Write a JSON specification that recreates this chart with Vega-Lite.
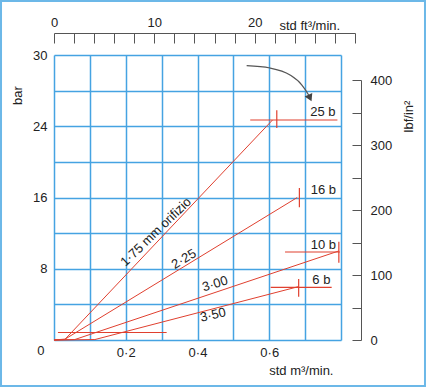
{
  "$schema": "https://vega.github.io/schema/vega-lite/v6.json",
  "width": 287,
  "height": 285,
  "autosize": "none",
  "padding": {"left": 54, "top": 55, "right": 85, "bottom": 47},
  "background": "white",
  "config": {
    "view": {"stroke": null},
    "font": "Liberation Sans",
    "axis": {"labelFont": "Liberation Sans", "titleFont": "Liberation Sans", "labelFontSize": 13, "titleFontSize": 13, "titleFontWeight": "normal", "labelColor": "#222", "titleColor": "#222", "labelOverlap": false, "labelFlush": false, "labelBound": false}
  },
  "datasets": {
    "lines": [
      {"series": "1.75", "ord": 0, "m3": 0, "bar": 0},
      {"series": "1.75", "ord": 1, "m3": 0.03, "bar": 0.05},
      {"series": "1.75", "ord": 2, "m3": 0.609, "bar": 24.7},
      {"series": "2.25", "ord": 0, "m3": 0, "bar": 0},
      {"series": "2.25", "ord": 1, "m3": 0.031, "bar": 0.1},
      {"series": "2.25", "ord": 2, "m3": 0.678, "bar": 16.0},
      {"series": "3.00", "ord": 0, "m3": 0, "bar": 0},
      {"series": "3.00", "ord": 1, "m3": 0.058, "bar": 0.05},
      {"series": "3.00", "ord": 2, "m3": 0.794, "bar": 10.0},
      {"series": "3.50", "ord": 0, "m3": 0, "bar": 0},
      {"series": "3.50", "ord": 1, "m3": 0.114, "bar": 0.05},
      {"series": "3.50", "ord": 2, "m3": 0.682, "bar": 6.0}
    ],
    "segments": [
      {"x1": 0.547, "x2": 0.79, "y1": 24.7, "y2": 24.7},
      {"x1": 0.621, "x2": 0.621, "y1": 23.8, "y2": 25.8},
      {"x1": 0.684, "x2": 0.684, "y1": 14.9, "y2": 17.07},
      {"x1": 0.644, "x2": 0.797, "y1": 9.88, "y2": 9.88},
      {"x1": 0.794, "x2": 0.794, "y1": 8.68, "y2": 11.04},
      {"x1": 0.604, "x2": 0.774, "y1": 5.92, "y2": 5.92},
      {"x1": 0.682, "x2": 0.682, "y1": 4.86, "y2": 6.85},
      {"x1": 0.011, "x2": 0.314, "y1": 0.84, "y2": 0.84}
    ],
    "pressures": [
      {"label": "25 b", "m3": 0.714, "bar": 25.6},
      {"label": "16 b", "m3": 0.7155, "bar": 16.84},
      {"label": "10 b", "m3": 0.7155, "bar": 10.67},
      {"label": "6 b", "m3": 0.72, "bar": 6.79}
    ],
    "orifices": [
      {"label": "1·75 mm orifizio", "m3": 0.284, "bar": 12.13},
      {"label": "2·25", "m3": 0.362, "bar": 9.09},
      {"label": "3·00", "m3": 0.449, "bar": 6.29},
      {"label": "3·50", "m3": 0.443, "bar": 2.81}
    ],
    "arrow": [
      {"ord": 0, "m3": 0.537, "bar": 30.8},
      {"ord": 1, "m3": 0.602, "bar": 30.54},
      {"ord": 2, "m3": 0.658, "bar": 29.75},
      {"ord": 3, "m3": 0.691, "bar": 28.63},
      {"ord": 4, "m3": 0.708, "bar": 27.62},
      {"ord": 5, "m3": 0.7136, "bar": 27.17}
    ],
    "arrowhead": [{"m3": 0.7136, "bar": 27.17}]
  },
  "layer": [
    {
      "layer": [
        {
          "data": {"values": [{}]},
          "mark": {"type": "rect", "fill": null, "stroke": "#6cb8e8", "strokeWidth": 2, "clip": false},
          "encoding": {
            "x": {"datum": -0.1477, "type": "quantitative", "scale": {"domain": [0, 0.8], "nice": false, "zero": false},
              "axis": {"orient": "bottom", "values": [0, 0.1, 0.2, 0.3, 0.4, 0.5, 0.6, 0.7, 0.8], "tickCount": 50, "domain": false, "ticks": false, "labelPadding": 6, "grid": true, "gridColor": "#45a3e2", "gridWidth": 1.5,
                "labelExpr": "(datum.value > 0.1 && datum.value < 0.7 && abs((datum.value * 10) % 2) < 0.01) ? replace(format(datum.value, '.1f'), '.', '·') : ''",
                "title": "std m³/min.", "titleAlign": "right", "titleX": 279, "titleY": 34, "titleBaseline": "alphabetic"}},
            "x2": {"datum": 1.0341},
            "y": {"datum": 38.063, "type": "quantitative", "scale": {"domain": [0, 32], "nice": false},
              "axis": {"orient": "left", "values": [0, 4, 8, 12, 16, 20, 24, 28, 32], "tickCount": 50, "format": "d", "domain": false, "ticks": false,
                "labelPadding": {"condition": {"test": "datum.value === 0", "value": 10}, "value": 7},
                "labelOffset": {"condition": {"test": "datum.value === 0", "value": 10}, "value": 0},
                "grid": true, "gridColor": "#45a3e2", "gridWidth": 1.5,
                "labelExpr": "datum.value === 32 ? '30' : (datum.value % 8 === 0 ? datum.label : '')",
                "title": "bar", "titleAngle": -90, "titleX": -33, "titleY": 40, "titleAlign": "center", "titleBaseline": "alphabetic"}},
            "y2": {"datum": -5.165}
          }
        },
        {
          "data": {"name": "lines"},
          "mark": {"type": "line", "color": "#e0402f", "strokeWidth": 1},
          "encoding": {
            "x": {"field": "m3", "type": "quantitative"},
            "y": {"field": "bar", "type": "quantitative"},
            "detail": {"field": "series"},
            "order": {"field": "ord"}
          }
        },
        {
          "data": {"name": "segments"},
          "mark": {"type": "rule", "color": "#e0402f", "strokeWidth": 1.2},
          "encoding": {
            "x": {"field": "x1", "type": "quantitative"},
            "x2": {"field": "x2"},
            "y": {"field": "y1", "type": "quantitative"},
            "y2": {"field": "y2"}
          }
        },
        {
          "data": {"name": "pressures"},
          "mark": {"type": "text", "align": "left", "baseline": "middle", "fontSize": 13, "color": "#222", "font": "Liberation Sans"},
          "encoding": {
            "x": {"field": "m3", "type": "quantitative"},
            "y": {"field": "bar", "type": "quantitative"},
            "text": {"field": "label"}
          }
        },
        {
          "data": {"name": "orifices"},
          "transform": [{"filter": "datum.label === '1·75 mm orifizio'"}],
          "mark": {"type": "text", "align": "center", "baseline": "middle", "fontSize": 13, "color": "#222", "angle": -44, "font": "Liberation Sans"},
          "encoding": {"x": {"field": "m3", "type": "quantitative"}, "y": {"field": "bar", "type": "quantitative"}, "text": {"field": "label"}}
        },
        {
          "data": {"name": "orifices"},
          "transform": [{"filter": "datum.label === '2·25'"}],
          "mark": {"type": "text", "align": "center", "baseline": "middle", "fontSize": 13, "color": "#222", "angle": -31, "font": "Liberation Sans"},
          "encoding": {"x": {"field": "m3", "type": "quantitative"}, "y": {"field": "bar", "type": "quantitative"}, "text": {"field": "label"}}
        },
        {
          "data": {"name": "orifices"},
          "transform": [{"filter": "datum.label === '3·00'"}],
          "mark": {"type": "text", "align": "center", "baseline": "middle", "fontSize": 13, "color": "#222", "angle": -17, "font": "Liberation Sans"},
          "encoding": {"x": {"field": "m3", "type": "quantitative"}, "y": {"field": "bar", "type": "quantitative"}, "text": {"field": "label"}}
        },
        {
          "data": {"name": "orifices"},
          "transform": [{"filter": "datum.label === '3·50'"}],
          "mark": {"type": "text", "align": "center", "baseline": "middle", "fontSize": 13, "color": "#222", "angle": -13, "font": "Liberation Sans"},
          "encoding": {"x": {"field": "m3", "type": "quantitative"}, "y": {"field": "bar", "type": "quantitative"}, "text": {"field": "label"}}
        },
        {
          "data": {"name": "arrow"},
          "mark": {"type": "line", "color": "#555", "strokeWidth": 1.2, "interpolate": "monotone"},
          "encoding": {
            "x": {"field": "m3", "type": "quantitative"},
            "y": {"field": "bar", "type": "quantitative"},
            "order": {"field": "ord"}
          }
        },
        {
          "data": {"name": "arrowhead"},
          "mark": {"type": "point", "shape": "triangle-down", "filled": true, "color": "#444", "size": 70, "angle": -25, "opacity": 1},
          "encoding": {
            "x": {"field": "m3", "type": "quantitative"},
            "y": {"field": "bar", "type": "quantitative"}
          }
        }
      ]
    },
    {
      "data": {"values": [{"ft3": 0}, {"ft3": 30}]},
      "mark": {"type": "rule", "opacity": 0},
      "encoding": {
        "x": {"field": "ft3", "type": "quantitative", "scale": {"domain": [0, 30], "range": [0, 301], "nice": false},
          "axis": {"orient": "top", "offset": 22, "values": [0, 2, 4, 6, 8, 10, 12, 14, 16, 18, 20, 22, 24, 26, 28, 30], "tickCount": 50, "format": "d", "domainColor": "#555", "tickColor": "#555", "tickSize": -10, "labelPadding": 14, "grid": false,
            "labelExpr": "(datum.value % 10 === 0 && datum.value < 30) ? datum.label : ''",
            "title": "std ft³/min.", "titleAlign": "left", "titleX": 225, "titleY": -3.5, "titleBaseline": "alphabetic"}}
      }
    },
    {
      "data": {"values": [{"psi": 0}, {"psi": 400}]},
      "mark": {"type": "rule", "opacity": 0},
      "encoding": {
        "y": {"field": "psi", "type": "quantitative", "scale": {"domain": [0, 400], "range": [285, 25], "nice": false},
          "axis": {"orient": "right", "offset": 20, "values": [0, 50, 100, 150, 200, 250, 300, 350, 400], "tickCount": 50, "format": "d", "domainColor": "#555", "tickColor": "#555", "tickSize": -9, "labelPadding": 18, "grid": false,
            "labelExpr": "datum.value % 100 === 0 ? datum.label : ''",
            "title": "lbf/in²", "titleAngle": -90, "titleX": 51, "titleY": 61, "titleAlign": "center", "titleBaseline": "alphabetic"}}
      }
    }
  ],
  "resolve": {"scale": {"x": "independent", "y": "independent"}}
}
